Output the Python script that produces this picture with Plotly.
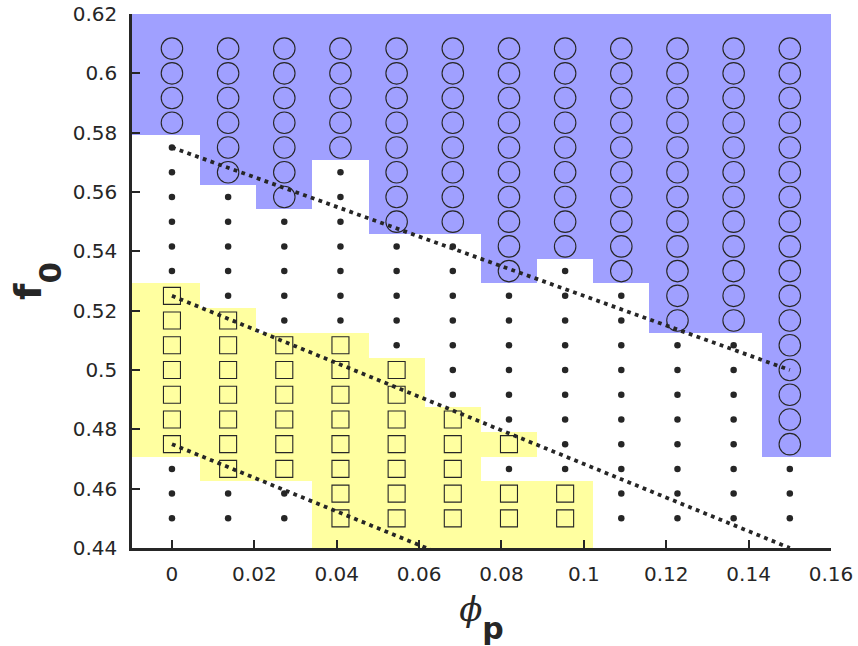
import plotly.graph_objects as go

# ---- data -------------------------------------------------------------
phi_p = [0, 0.013636, 0.027273, 0.040909, 0.054545, 0.068182,
         0.081818, 0.095455, 0.109091, 0.122727, 0.136364, 0.15]
f0 = [0.45, 0.458333, 0.466667, 0.475, 0.483333, 0.491667, 0.5, 0.508333,
      0.516667, 0.525, 0.533333, 0.541667, 0.55, 0.558333, 0.566667, 0.575,
      0.583333, 0.591667, 0.6, 0.608333]
# regime per phi_p column, f0 from low to high:
# 'S' = square (yellow), '.' = dot (white), 'O' = circle (blue)
regime = [
    "...SSSSSSS......OOOO",
    "..SSSSSSS.....OOOOOO",
    "..SSSSSS.....OOOOOOO",
    "SSSSSSSS.......OOOOO",
    "SSSSSSS.....OOOOOOOO",
    "SSSSS.......OOOOOOOO",
    "SS.S......OOOOOOOOOO",
    "SS.........OOOOOOOOO",
    "..........OOOOOOOOOO",
    "........OOOOOOOOOOOO",
    "........OOOOOOOOOOOO",
    "...OOOOOOOOOOOOOOOOO",
]
# dotted guide lines (start / end points)
line_x0 = [0, 0, 0]
line_y0 = [0.575, 0.525, 0.475]
line_x1 = [0.15, 0.15, 0.15]
line_y1 = [0.50, 0.44, 0.39]

x_ticks = [0, 0.02, 0.04, 0.06, 0.08, 0.1, 0.12, 0.14, 0.16]
x_ticktext = ["0", "0.02", "0.04", "0.06", "0.08", "0.1", "0.12", "0.14", "0.16"]
y_ticks = [0.44, 0.46, 0.48, 0.5, 0.52, 0.54, 0.56, 0.58, 0.6, 0.62]
y_ticktext = ["0.44", "0.46", "0.48", "0.5", "0.52", "0.54", "0.56", "0.58", "0.6", "0.62"]

X_RANGE = [-0.0097, 0.16]
Y_RANGE = [0.44, 0.62]

INK = "#262626"
BLUE = "#a0a0ff"
YELLOW = "#ffffa0"

# ---- build ------------------------------------------------------------
code = {".": 0, "O": 1, "S": 2}
z = [[code[regime[i][j]] for i in range(len(phi_p))] for j in range(len(f0))]

x_edges = [X_RANGE[0]] + [(phi_p[i] + phi_p[i + 1]) / 2 for i in range(len(phi_p) - 1)] + [X_RANGE[1]]
y_edges = [Y_RANGE[0]] + [(f0[j] + f0[j + 1]) / 2 for j in range(len(f0) - 1)] + [Y_RANGE[1]]

fig = go.Figure()
fig.add_trace(go.Heatmap(
    x=x_edges, y=y_edges, z=z, zmin=0, zmax=2, showscale=False,
    colorscale=[[0, "white"], [0.33, "white"], [0.33, BLUE], [0.67, BLUE],
                [0.67, YELLOW], [1, YELLOW]],
    hoverinfo="skip", zsmooth=False))

def pts(ch):
    xs, ys = [], []
    for i, col in enumerate(regime):
        for j, c in enumerate(col):
            if c == ch:
                xs.append(phi_p[i]); ys.append(f0[j])
    return xs, ys

xs, ys = pts("O")
fig.add_trace(go.Scatter(x=xs, y=ys, mode="markers",
                         marker=dict(symbol="circle-open", size=21.5, color=INK,
                                     line=dict(width=1.1, color=INK))))
xs, ys = pts("S")
fig.add_trace(go.Scatter(x=xs, y=ys, mode="markers",
                         marker=dict(symbol="square-open", size=17, color=INK,
                                     line=dict(width=1.1, color=INK))))
xs, ys = pts(".")
fig.add_trace(go.Scatter(x=xs, y=ys, mode="markers",
                         marker=dict(symbol="circle", size=6.5, color=INK, line=dict(width=0))))

for k in range(len(line_x0)):
    fig.add_trace(go.Scatter(x=[line_x0[k], line_x1[k]], y=[line_y0[k], line_y1[k]],
                             mode="lines", line=dict(color=INK, width=3.8, dash="3.8px,4.4px")))

axis_common = dict(showgrid=False, zeroline=False, showline=True, linecolor=INK, linewidth=2.6,
                   ticks="inside", ticklen=8, tickwidth=2.4, tickcolor=INK,
                   tickfont=dict(family="DejaVu Sans", size=20, color=INK), mirror=False,
                   automargin=False, ticklabeloverflow="allow")

x_title = ("<span style='font-size:34px'><i>ϕ</i></span><sub><sub><sub>"
           "<b><span style='font-family:DejaVu Sans;font-size:30px'>p</span></b>"
           "</sub></sub></sub>")
y_title = ("<b><span style='font-size:38px'>f</span><sub><sub><sub>"
           "<span style='font-size:31px'>0</span></sub></sub></sub></b>")

fig.update_layout(
    width=858, height=646,
    margin=dict(l=132, r=27, t=14, b=98),
    paper_bgcolor="white", plot_bgcolor="white",
    showlegend=False,
    font=dict(family="DejaVu Sans", color=INK),
    xaxis=dict(range=X_RANGE, tickvals=x_ticks, ticktext=x_ticktext,
               ticklabelstandoff=6,
               title=dict(text=x_title,
                          font=dict(family="DejaVu Serif", size=40, color=INK), standoff=17),
               **axis_common),
    yaxis=dict(range=Y_RANGE, tickvals=y_ticks, ticktext=y_ticktext,
               ticklabelstandoff=8,
               title=dict(text=y_title,
                          font=dict(family="DejaVu Sans", size=44, color=INK), standoff=18),
               **axis_common),
)

# remove the browser's default 8px body margin so the 858x646 figure fills the window
fig.write_html("out.html", config={"displayModeBar": False},
               post_script="document.body.style.margin='0px';")
